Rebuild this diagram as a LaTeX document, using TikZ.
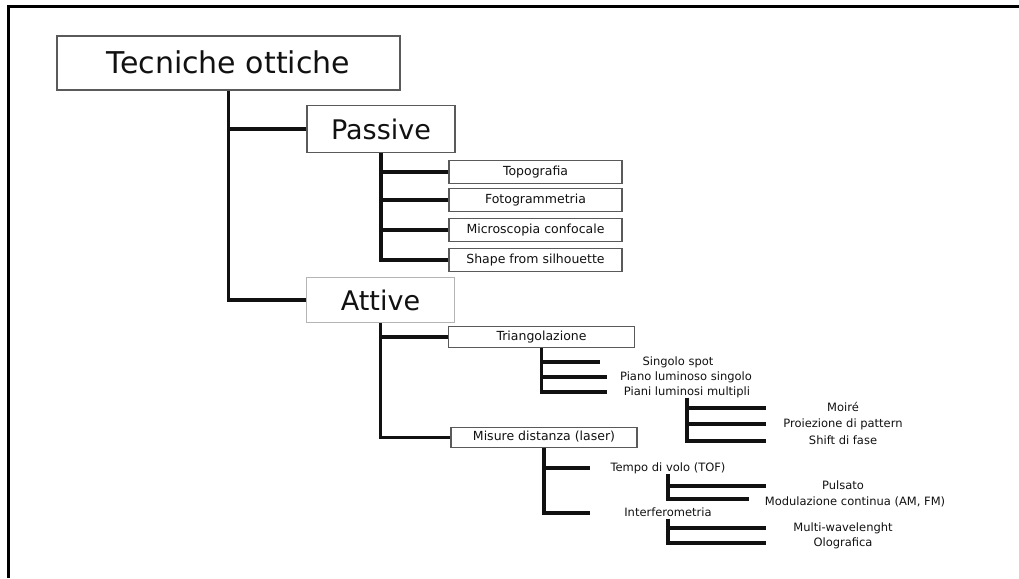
\documentclass[tikz,border=0pt]{standalone}
\usepackage{fontspec}
\setmainfont{DejaVu Sans}
\definecolor{ink}{HTML}{111111}
\definecolor{boxline}{HTML}{5A5A5A}
\definecolor{lightline}{HTML}{B4B4B4}
\begin{document}
\begin{tikzpicture}[x=1pt,y=-1pt,
  conn/.style={draw=ink, line width=3.4pt, line join=miter},
  bigbox/.style={draw=boxline, line width=1.3pt, fill=white, inner sep=0pt, text=ink,
     minimum width=148pt, minimum height=47pt, font=\fontsize{27}{30}\selectfont,
     text height=20pt, text depth=0pt},
  smallbox/.style={draw=boxline, line width=1.2pt, fill=white, inner sep=0pt, text=ink,
     minimum width=173pt, minimum height=23pt, font=\fontsize{12.5}{14}\selectfont,
     text height=9pt, text depth=3pt},
  lbl/.style={inner sep=0pt, text=ink, font=\fontsize{11.5}{13}\selectfont,
     text height=8.5pt, text depth=2.5pt}
]
\useasboundingbox (0,0) rectangle (1019,578);
% frame
\draw[draw=black, line width=3pt, line join=miter] (8.5,578) -- (8.5,6.5) -- (1019,6.5);

% main boxes
\node[bigbox, minimum width=343pt, minimum height=54pt, font=\fontsize{30}{34}\selectfont, text height=22pt] (root) at (228.5,63) {Tecniche ottiche};
\node[bigbox] (passive) at (381,129) {Passive};
\node[bigbox, draw=lightline, minimum height=45pt] (attive) at (380.5,300) {Attive};

% passive children
\node[smallbox] (topo) at (535.5,172) {Topografia};
\node[smallbox] (foto) at (535.5,200) {Fotogrammetria};
\node[smallbox] (micro) at (535.5,230) {Microscopia confocale};
\node[smallbox] (shape) at (535.5,260) {Shape from silhouette};

% attive children
\node[smallbox, minimum width=186pt, minimum height=21pt] (tri) at (541.5,337) {Triangolazione};
\node[smallbox, minimum width=186pt, minimum height=20pt] (mis) at (544,437.5) {Misure distanza (laser)};

% labels
\node[lbl] (spot) at (678,362) {Singolo spot};
\node[lbl] (pls) at (686,377) {Piano luminoso singolo};
\node[lbl] (plm) at (687,392) {Piani luminosi multipli};
\node[lbl] (moire) at (843,408) {Moiré};
\node[lbl] (proi) at (843,424) {Proiezione di pattern};
\node[lbl] (shift) at (843,441) {Shift di fase};
\node[lbl] (tof) at (668,468) {Tempo di volo (TOF)};
\node[lbl] (interf) at (668,513) {Interferometria};
\node[lbl] (puls) at (843,486) {Pulsato};
\node[lbl] (modul) at (855,502) {Modulazione continua (AM, FM)};
\node[lbl] (multi) at (843,528) {Multi-wavelenght};
\node[lbl] (olog) at (843,543) {Olografica};

% free ends of label connectors
\coordinate (eSpot) at (600,362);
\coordinate (ePls) at (607,377);
\coordinate (ePlm) at (607,392);
\coordinate (eMoire) at (766,408);
\coordinate (eProi) at (766,424);
\coordinate (eShift) at (766,441);
\coordinate (eTof) at (590,468);
\coordinate (eInterf) at (590,513);
\coordinate (ePuls) at (766,486);
\coordinate (eModul) at (749,499);
\coordinate (eMulti) at (766,528);
\coordinate (eOlog) at (766,543);

% connectors
\draw[conn] (root.south) |- (attive.west);
\draw[conn] (root.south |- passive.west) -- (passive.west);

\draw[conn] (passive.south) |- (shape.west);
\draw[conn] (passive.south |- topo.west) -- (topo.west);
\draw[conn] (passive.south |- foto.west) -- (foto.west);
\draw[conn] (passive.south |- micro.west) -- (micro.west);

\draw[conn] (attive.south) |- (mis.west);
\draw[conn] (attive.south |- tri.west) -- (tri.west);

\draw[conn] (tri.south) |- (ePlm);
\draw[conn] (tri.south |- eSpot) -- (eSpot);
\draw[conn] (tri.south |- ePls) -- (ePls);

\draw[conn] (plm.south) |- (eShift);
\draw[conn] (plm.south |- eMoire) -- (eMoire);
\draw[conn] (plm.south |- eProi) -- (eProi);

\draw[conn] (mis.south) |- (eInterf);
\draw[conn] (mis.south |- eTof) -- (eTof);

\draw[conn] (tof.south) |- (eModul);
\draw[conn] (tof.south |- ePuls) -- (ePuls);

\draw[conn] (interf.south) |- (eOlog);
\draw[conn] (interf.south |- eMulti) -- (eMulti);
\end{tikzpicture}
\end{document}
